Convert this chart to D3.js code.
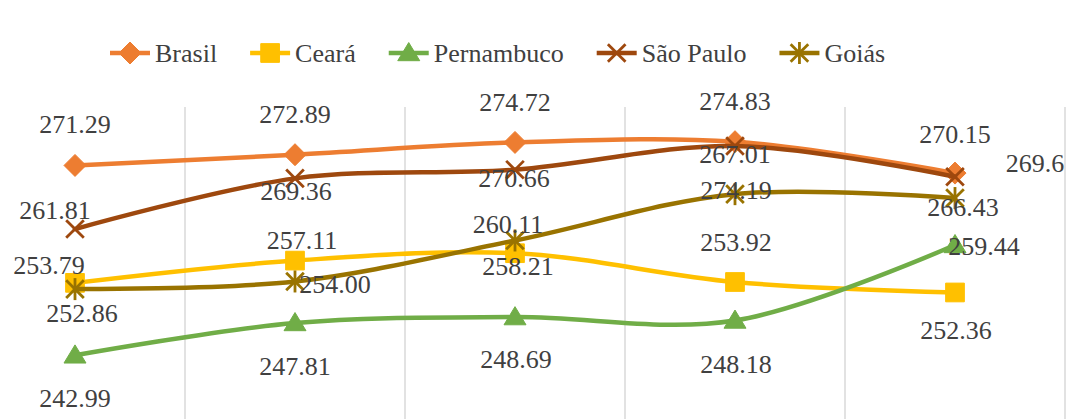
<!DOCTYPE html>
<html>
<head>
<meta charset="utf-8">
<script src="https://cdn.jsdelivr.net/npm/d3@7"></script>
<style>
  body { margin: 0; background: #fff; font-family: "Liberation Serif", "Times New Roman", serif; }
  svg { display: block; }
</style>
</head>
<body>
<div id="chart"></div>
<script>
// data
const categories = ["1", "2", "3", "4", "5"];
const seriesNames = ["Brasil", "Ceará", "Pernambuco", "São Paulo", "Goiás"];
const brasil     = [271.29, 272.89, 274.72, 274.83, 270.15];
const ceara      = [253.79, 257.11, 258.21, 253.92, 252.36];
const pernambuco = [242.99, 247.81, 248.69, 248.18, 259.44];
const saoPaulo   = [261.81, 269.36, 270.66, 274.19, 269.6];
const goias      = [252.86, 254.00, 260.11, 267.01, 266.43];
// label texts as printed on the chart
const brasilLabels     = ["271.29", "272.89", "274.72", "274.83", "270.15"];
const cearaLabels      = ["253.79", "257.11", "258.21", "253.92", "252.36"];
const pernambucoLabels = ["242.99", "247.81", "248.69", "248.18", "259.44"];
const saoPauloLabels   = ["261.81", "269.36", "270.66", "267.01", "269.6"];
const goiasLabels      = ["252.86", "254.00", "260.11", "274.19", "266.43"];

const W = 1067, H = 419;
const FONT = '"Liberation Serif", "Times New Roman", serif';

// layout: label nudges relative to the marker [dx, dy]
const labelShift = [
  [[0,-32],[0,-32],[0,-31],[0,-32],[0,-30]],
  [[-26,-9],[7,-12],[3,22],[1,-31],[1,47]],
  [[0,52],[0,52],[1,51],[1,52],[29,10]],
  [[-20,-10],[1,22],[-1,17],[0,17],[80,-5]],
  [[7,33],[40,12],[-7,-7],[1,5],[8,18]]
];
const colors = ["#ED7D31", "#FFC000", "#70AD47", "#9E480E", "#997300"];
const markers = ["diamond", "square", "triangle", "x", "star"];

const series = [brasil, ceara, pernambuco, saoPaulo, goias].map((v, i) => ({
  name: seriesNames[i],
  values: v,
  labels: [brasilLabels, cearaLabels, pernambucoLabels, saoPauloLabels, goiasLabels][i],
  color: colors[i],
  marker: markers[i],
  shift: labelShift[i]
}));

const svg = d3.select("#chart").append("svg")
  .attr("width", W).attr("height", H)
  .style("font-family", FONT);

const step = 220;
const x = d3.scalePoint().domain(categories).range([75, 75 + step * 4]);
const y = d3.scaleLinear().domain([280, 230]).range([107, 442.5]);

// vertical gridlines between categories
svg.append("g")
  .selectAll("line")
  .data(categories)
  .join("line")
  .attr("x1", d => x(d) + step / 2)
  .attr("x2", d => x(d) + step / 2)
  .attr("y1", 107)
  .attr("y2", H)
  .attr("stroke", "#d9d9d9")
  .attr("stroke-width", 1.5);

function markerPath(type, s) {
  const p = d3.path();
  if (type === "diamond") {
    p.moveTo(0, -s); p.lineTo(s, 0); p.lineTo(0, s); p.lineTo(-s, 0); p.closePath();
  } else if (type === "square") {
    const h = s * 0.85;
    p.rect(-h, -h, 2 * h, 2 * h);
  } else if (type === "triangle") {
    p.moveTo(0, -s * 0.95); p.lineTo(s, s * 0.7); p.lineTo(-s, s * 0.7); p.closePath();
  }
  return p.toString();
}

function drawMarker(g, type, color, s) {
  if (type === "x" || type === "star") {
    const h = s * 0.8;
    g.append("line").attr("x1", -h).attr("y1", -h).attr("x2", h).attr("y2", h);
    g.append("line").attr("x1", -h).attr("y1", h).attr("x2", h).attr("y2", -h);
    if (type === "star") {
      g.append("line").attr("x1", 0).attr("y1", -s).attr("x2", 0).attr("y2", s);
    }
    g.selectAll("line").attr("stroke", color).attr("stroke-width", 2.8);
  } else {
    g.append("path").attr("d", markerPath(type, s)).attr("fill", color).attr("stroke", color).attr("stroke-width", 1);
  }
}

const line = d3.line()
  .x((d, i) => x(categories[i]))
  .y(d => y(d))
  .curve(d3.curveCatmullRom.alpha(0.5));

series.forEach(s => {
  const g = svg.append("g");
  g.append("path")
    .attr("d", line(s.values))
    .attr("fill", "none")
    .attr("stroke", s.color)
    .attr("stroke-width", 4.5)
    .attr("stroke-linecap", "round");
  s.values.forEach((v, i) => {
    const m = g.append("g").attr("transform", `translate(${x(categories[i])},${y(v)})`);
    drawMarker(m, s.marker, s.color, 11);
  });
});

// data labels on top
series.forEach(s => {
  svg.append("g")
    .selectAll("text")
    .data(s.values)
    .join("text")
    .attr("x", (v, i) => x(categories[i]) + s.shift[i][0])
    .attr("y", (v, i) => y(v) + s.shift[i][1])
    .attr("text-anchor", "middle")
    .style("font-family", FONT)
    .style("font-size", "26px")
    .attr("fill", "#404040")
    .text((v, i) => s.labels[i]);
});

// legend
const legend = svg.append("g");
let lx = 110;
series.forEach(s => {
  const item = legend.append("g").attr("transform", `translate(${lx},53)`);
  item.append("line")
    .attr("x1", 0).attr("x2", 40)
    .attr("stroke", s.color).attr("stroke-width", 4.5);
  const m = item.append("g").attr("transform", "translate(20,0)");
  drawMarker(m, s.marker, s.color, 11);
  const t = item.append("text")
    .attr("x", 45).attr("y", 9)
    .style("font-family", FONT)
    .style("font-size", "26px")
    .attr("fill", "#404040")
    .text(s.name);
  lx += 45 + t.node().getComputedTextLength() + 33;
});
</script>
</body>
</html>
